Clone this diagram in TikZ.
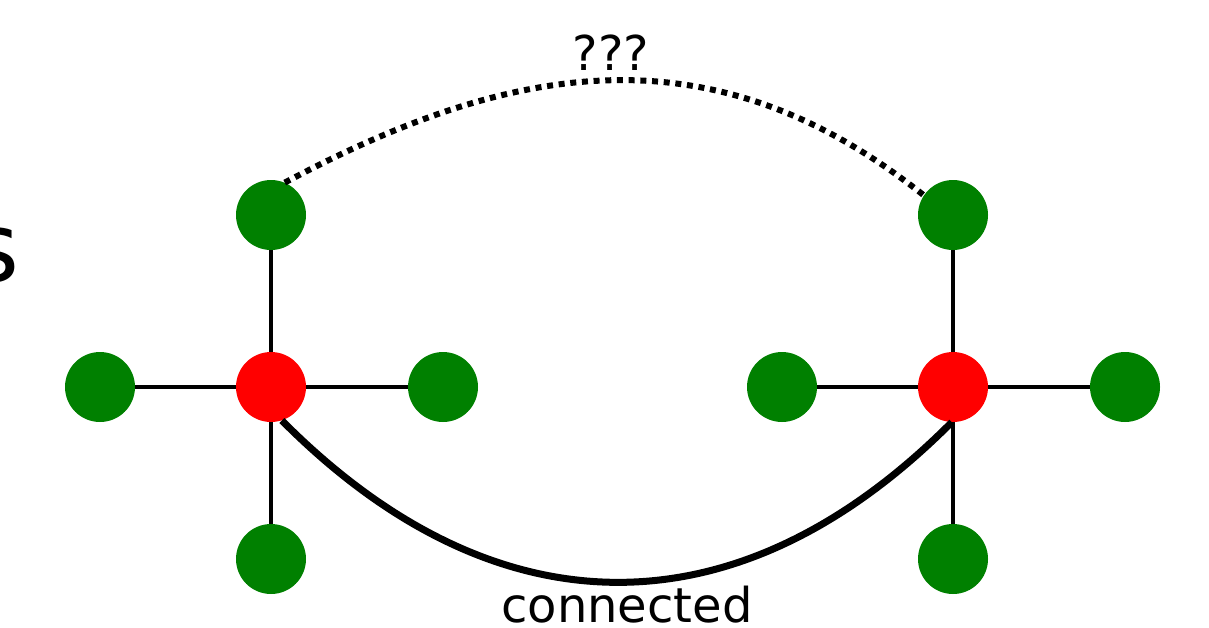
\documentclass[tikz,border=0pt]{standalone}
\usepackage{fontspec}
\setmainfont{DejaVu Sans}
\definecolor{nodegreen}{RGB}{0,128,0}
\definecolor{nodered}{RGB}{255,0,0}
\begin{document}
\begin{tikzpicture}[x=1pt,y=-1pt,
  leaf/.style={circle,fill=nodegreen,minimum size=70pt,inner sep=0pt},
  hub/.style={circle,fill=nodered,minimum size=70pt,inner sep=0pt},
  spoke/.style={line width=4.8pt,black},
  lbl/.style={inner sep=0pt,font=\fontsize{48}{58}\selectfont}]
\useasboundingbox (0,0) rectangle (1209,627);
% left star
\node[hub]  (lr) at (271,387) {};
\node[leaf] (lt) at (271,215) {};
\node[leaf] (ll) at (100,387) {};
\node[leaf] (lrt) at (443,387) {};
\node[leaf] (lb) at (271,559) {};
% right star
\node[hub]  (rr) at (953,387) {};
\node[leaf] (rt) at (953,215) {};
\node[leaf] (rl) at (782,387) {};
\node[leaf] (rrt) at (1125,387) {};
\node[leaf] (rb) at (953,559) {};
% spokes
\draw[spoke] (lr) -- (lt);
\draw[spoke] (lr) -- (ll);
\draw[spoke] (lr) -- (lrt);
\draw[spoke] (lr) -- (lb);
\draw[spoke] (rr) -- (rt);
\draw[spoke] (rr) -- (rl);
\draw[spoke] (rr) -- (rrt);
\draw[spoke] (rr) -- (rb);
% connected curve
\draw[line width=7pt] (lr.-72) .. controls (493,633) and (736,639) .. (rr.-92);
% dotted curve
\draw[line width=6pt,dash pattern=on 6pt off 5.7pt] (lt.67) .. controls (513,61) and (712,27) .. (rt.146);
% labels
\node[lbl,anchor=base] (q) at (611,70) {???};
\node[lbl,anchor=base] (c) at (627,622) {connected};
\node[inner sep=0pt,anchor=base east,font=\fontsize{96}{110}\selectfont] (s) at (19.5,281) {s};
\end{tikzpicture}
\end{document}
